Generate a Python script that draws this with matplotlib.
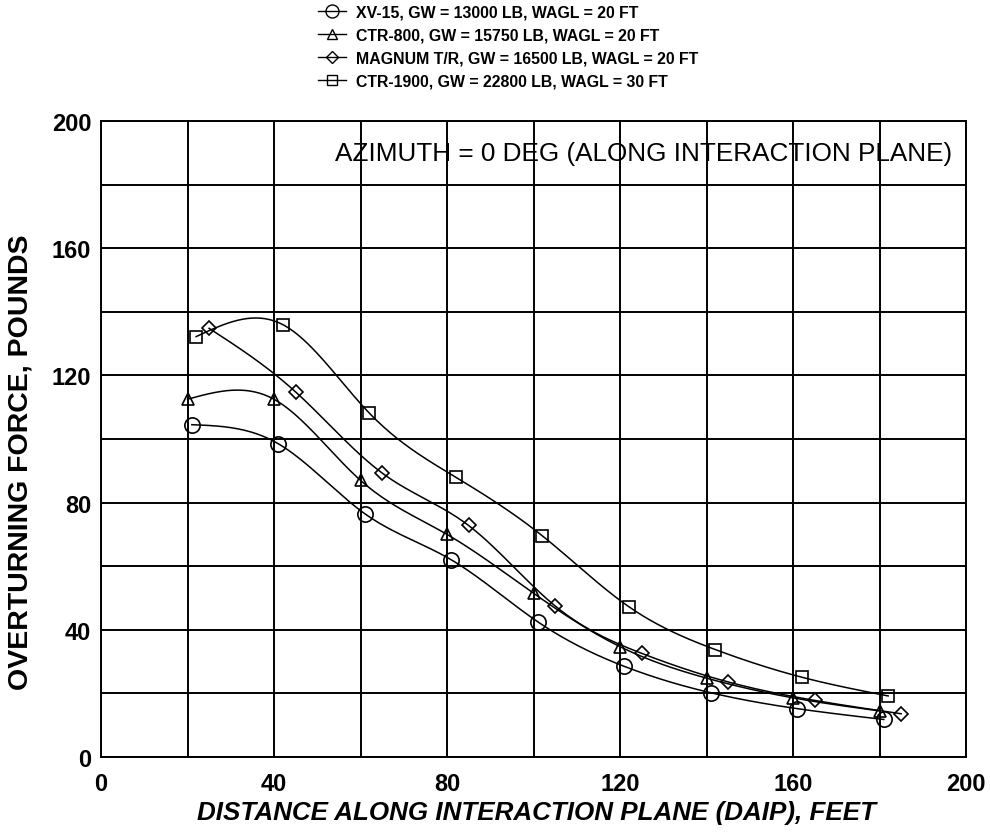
import numpy as np
import matplotlib
matplotlib.use("Agg")
import matplotlib.pyplot as plt

plt.rcParams['font.family'] = ['Liberation Sans', 'DejaVu Sans']

# ---- data ----
xv15_x = [21, 41, 61, 81, 101, 121, 141, 161, 181]
xv15_y = [104.5, 98.5, 76.5, 62, 42.5, 28.5, 20.2, 15.2, 11.8]

ctr800_x = [20, 40, 60, 80, 100, 120, 140, 160, 180]
ctr800_y = [112.5, 112.5, 87, 70, 51.5, 34.7, 24.8, 18.6, 14.5]

magnum_x = [25, 45, 65, 85, 105, 125, 145, 165, 185]
magnum_y = [134.8, 114.8, 89.3, 72.8, 47.5, 32.6, 23.6, 17.8, 13.6]

ctr1900_x = [22, 42, 62, 82, 102, 122, 142, 162, 182]
ctr1900_y = [132.2, 136, 108.2, 88, 69.6, 47.3, 33.8, 25.1, 19.2]

labels = [
    "XV-15, GW = 13000 LB, WAGL = 20 FT",
    "CTR-800, GW = 15750 LB, WAGL = 20 FT",
    "MAGNUM T/R, GW = 16500 LB, WAGL = 20 FT",
    "CTR-1900, GW = 22800 LB, WAGL = 30 FT",
]
markers = ['o', '^', 'D', 's']
msizes = [11, 9, 7.2, 8.3]

xticks_major = [0, 40, 80, 120, 160, 200]
yticks_major = [0, 40, 80, 120, 160, 200]
annotation = "AZIMUTH = 0 DEG (ALONG INTERACTION PLANE)"
xlabel = "DISTANCE ALONG INTERACTION PLANE (DAIP), FEET"
ylabel = "OVERTURNING FORCE, POUNDS"


def natural_spline(x, y, n=300):
    x = np.asarray(x, float)
    y = np.asarray(y, float)
    m = len(x)
    h = np.diff(x)
    A = np.zeros((m, m))
    b = np.zeros(m)
    A[0, 0] = 1
    A[-1, -1] = 1
    for i in range(1, m - 1):
        A[i, i - 1] = h[i - 1]
        A[i, i] = 2 * (h[i - 1] + h[i])
        A[i, i + 1] = h[i]
        b[i] = 6 * ((y[i + 1] - y[i]) / h[i] - (y[i] - y[i - 1]) / h[i - 1])
    M = np.linalg.solve(A, b)
    xs = np.linspace(x[0], x[-1], n)
    idx = np.clip(np.searchsorted(x, xs) - 1, 0, m - 2)
    x0, x1 = x[idx], x[idx + 1]
    hh = x1 - x0
    a = (x1 - xs) / hh
    c = (xs - x0) / hh
    ys = (a * y[idx] + c * y[idx + 1]
          + ((a ** 3 - a) * M[idx] + (c ** 3 - c) * M[idx + 1]) * hh ** 2 / 6)
    return xs, ys


fig = plt.figure(figsize=(9.9, 8.37), dpi=100)
ax = fig.add_axes([101 / 990, 79 / 837, 865 / 990, 636 / 837])

series = [(xv15_x, xv15_y), (ctr800_x, ctr800_y),
          (magnum_x, magnum_y), (ctr1900_x, ctr1900_y)]

handles = []
for (sx, sy), mk, ms, lab in zip(series, markers, msizes, labels):
    xs, ys = natural_spline(sx, sy)
    ax.plot(xs, ys, color='black', lw=1.1, zorder=3)
    ax.plot(sx, sy, linestyle='none', marker=mk, ms=ms, mfc='none',
            mec='black', mew=1.2, zorder=4)
    h, = ax.plot([], [], color='black', lw=1.0, marker=mk, ms=ms * 0.85,
                 mfc='none', mec='black', mew=1.0, label=lab)
    handles.append(h)

ax.set_xlim(0, 200)
ax.set_ylim(0, 200)
ax.set_xticks(xticks_major)
ax.set_yticks(yticks_major)
ax.set_xticks(range(20, 200, 40), minor=True)
ax.set_yticks(range(20, 200, 40), minor=True)
ax.grid(True, which='both', color='black', lw=1.4)
ax.set_axisbelow(True)
ax.tick_params(which='both', length=0)
ax.tick_params(axis='x', pad=11, labelsize=17)
ax.tick_params(axis='y', pad=7, labelsize=17)
for t in ax.get_xticklabels() + ax.get_yticklabels():
    t.set_fontweight('bold')
for s in ax.spines.values():
    s.set_linewidth(1.4)

ax.set_xlabel(xlabel, fontsize=18.7, fontweight='bold', fontstyle='italic')
ax.xaxis.set_label_coords(0.503, -0.087)
ax.xaxis.label.set_va('center')
ax.set_ylabel(ylabel, fontsize=20.5, fontweight='bold')
ax.yaxis.set_label_coords(-0.0925, 0.465)
ax.yaxis.label.set_va('center')

ax.text(54, 190, annotation, fontsize=18.8, ha='left', va='center', zorder=5)

fig.legend(handles=handles, loc='upper left',
           bbox_to_anchor=(318 / 990, 1 - 6 / 837), frameon=False,
           prop={'size': 11.4, 'weight': 'bold'}, handlelength=1.75,
           handletextpad=0.65, labelspacing=0.5, borderpad=0,
           borderaxespad=0)

fig.savefig("out.png", dpi=100)
